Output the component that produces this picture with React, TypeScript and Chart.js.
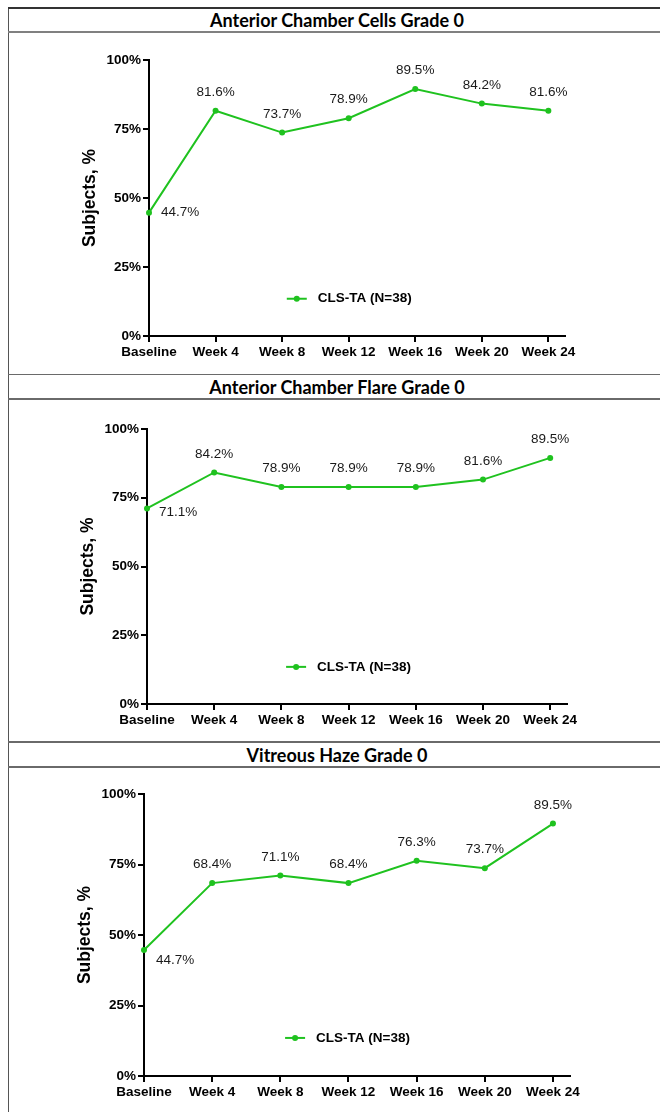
import React, { useEffect, useRef } from "react";
import { Chart, registerables } from "chart.js";

Chart.register(...registerables);

// ---------- data ----------
const categories = ["Baseline", "Week 4", "Week 8", "Week 12", "Week 16", "Week 20", "Week 24"];
const yTickValues = [0, 25, 50, 75, 100];
const seriesLabel = "CLS-TA (N=38)";
const yAxisTitle = "Subjects, %";

const cellsTitle = "Anterior Chamber Cells Grade 0";
const cellsValues = [44.7, 81.6, 73.7, 78.9, 89.5, 84.2, 81.6];

const flareTitle = "Anterior Chamber Flare Grade 0";
const flareValues = [71.1, 84.2, 78.9, 78.9, 78.9, 81.6, 89.5];

const hazeTitle = "Vitreous Haze Grade 0";
const hazeValues = [44.7, 68.4, 71.1, 68.4, 76.3, 73.7, 89.5];

// ---------- style ----------
const GREEN = "#1fc21f";
const FONT = "'Liberation Sans', Arial, sans-serif";

type PanelLayout = {
  top: number; // canvas top (page px)
  height: number;
  areaLeft: number;
  areaRight: number;
  areaTop: number;
  areaBottom: number;
  titleX: number;
  firstDy: number;
};

const CANVAS_LEFT = 9;
const CANVAS_WIDTH = 651;

function LineChart({ values, layout }: { values: number[]; layout: PanelLayout }) {
  const ref = useRef<HTMLCanvasElement | null>(null);
  useEffect(() => {
    if (!ref.current) return;
    const H = layout.height;
    const labelsPlugin = {
      id: "pointLabels",
      afterDatasetsDraw(chart: any) {
        const ctx = chart.ctx;
        const meta = chart.getDatasetMeta(0);
        ctx.save();
        ctx.font = `13.5px ${FONT}`;
        ctx.fillStyle = "#1a1a1a";
        ctx.textBaseline = "middle";
        meta.data.forEach((pt: any, i: number) => {
          const txt = values[i].toFixed(1) + "%";
          if (i === 0) {
            ctx.textAlign = "left";
            ctx.fillText(txt, pt.x + 12, pt.y + layout.firstDy);
          } else {
            ctx.textAlign = "center";
            ctx.fillText(txt, pt.x, pt.y - 18.5);
          }
        });
        // legend
        const xs = chart.scales.x.getPixelForValue(2.07);
        const ly = chart.scales.y.getPixelForValue(13.5);
        ctx.strokeStyle = GREEN;
        ctx.lineWidth = 2;
        ctx.beginPath();
        ctx.moveTo(xs, ly);
        ctx.lineTo(xs + 20, ly);
        ctx.stroke();
        ctx.fillStyle = GREEN;
        ctx.beginPath();
        ctx.arc(xs + 10, ly, 3, 0, Math.PI * 2);
        ctx.fill();
        ctx.fillStyle = "#000";
        ctx.font = `bold 13.5px ${FONT}`;
        ctx.textAlign = "left";
        ctx.fillText(seriesLabel, xs + 31, ly);
        ctx.restore();
      },
    };

    const chart = new Chart(ref.current, {
      type: "line",
      data: {
        datasets: [
          {
            label: seriesLabel,
            data: values.map((v, i) => ({ x: i, y: v })),
            borderColor: GREEN,
            backgroundColor: GREEN,
            borderWidth: 2,
            pointRadius: 3,
            pointBorderWidth: 0,
            pointHoverRadius: 3,
            tension: 0,
            clip: false as any,
          },
        ],
      },
      options: {
        responsive: false,
        animation: false,
        events: [],
        layout: {
          padding: { left: 0, top: layout.areaTop, right: CANVAS_WIDTH - layout.areaRight, bottom: 0 },
        },
        plugins: {
          legend: { display: false },
          tooltip: { enabled: false },
        },
        scales: {
          x: {
            type: "linear",
            min: 0,
            max: 6.25,
            afterBuildTicks: (s: any) => {
              s.ticks = categories.map((_, i) => ({ value: i }));
            },
            afterFit: (s: any) => {
              s.height = H - layout.areaBottom;
            },
            ticks: {
              autoSkip: false,
              maxRotation: 0,
              padding: 2,
              color: "#000",
              font: { family: FONT, size: 13.5, weight: "bold" },
              callback: (v: any) => categories[v as number] ?? "",
            },
            grid: { drawOnChartArea: false, drawTicks: true, tickLength: 6, color: "#000", lineWidth: 2 },
            border: { color: "#000", width: 2 },
          },
          y: {
            type: "linear",
            min: 0,
            max: 100,
            afterBuildTicks: (s: any) => {
              s.ticks = yTickValues.map((v) => ({ value: v }));
            },
            afterFit: (s: any) => {
              s.width = layout.areaLeft;
            },
            ticks: {
              padding: 2,
              color: "#000",
              font: { family: FONT, size: 13.5, weight: "bold" },
              callback: (v: any) => `${v}%`,
            },
            title: {
              display: true,
              text: yAxisTitle,
              color: "#000",
              font: { family: FONT, size: 17.5, weight: "bold", lineHeight: 1.2 },
              padding: { top: layout.titleX - 10.5, bottom: 0 },
            },
            grid: { drawOnChartArea: false, drawTicks: true, tickLength: 6, color: "#000", lineWidth: 2 },
            border: { color: "#000", width: 2 },
          },
        },
      } as any,
      plugins: [labelsPlugin],
    });
    return () => chart.destroy();
  }, [values, layout]);

  return (
    <canvas
      ref={ref}
      width={CANVAS_WIDTH}
      height={layout.height}
      style={{
        position: "absolute",
        left: CANVAS_LEFT,
        top: layout.top,
        width: CANVAS_WIDTH,
        height: layout.height,
      }}
    />
  );
}

const panel1: PanelLayout = { top: 34, height: 340, areaLeft: 140, areaRight: 556, areaTop: 26, areaBottom: 302, titleX: 81, firstDy: 0 };
const panel2: PanelLayout = { top: 401, height: 341, areaLeft: 138, areaRight: 558, areaTop: 28, areaBottom: 303, titleX: 79, firstDy: 4 };
const panel3: PanelLayout = { top: 769, height: 343, areaLeft: 135, areaRight: 561, areaTop: 25, areaBottom: 307, titleX: 76, firstDy: 10 };

function HLine({ y, color, thick }: { y: number; color: string; thick: number }) {
  return (
    <div
      style={{ position: "absolute", left: 8, top: y - thick / 2, width: 652, height: thick, background: color }}
    />
  );
}

function Title({ text, y0, y1 }: { text: string; y0: number; y1: number }) {
  return (
    <div
      style={{
        position: "absolute",
        left: 18,
        width: 638,
        top: y0,
        height: y1 - y0,
        display: "flex",
        alignItems: "center",
        justifyContent: "center",
        fontFamily: "Lato, 'Open Sans', sans-serif",
        fontWeight: 700,
        fontSize: 18,
        color: "#000",
        whiteSpace: "nowrap",
      }}
    >
      {text}
    </div>
  );
}

export default function App() {
  return (
    <div
      style={{
        position: "fixed",
        left: 0,
        top: 0,
        width: 660,
        height: 1112,
        overflow: "hidden",
        background: "#fff",
      }}
    >
      {/* left border */}
      <div style={{ position: "absolute", left: 7.5, top: 8, width: 1.5, height: 1104, background: "#555" }} />
      <HLine y={8} color="#333" thick={2} />
      <HLine y={32} color="#808080" thick={2} />
      <HLine y={374.5} color="#6a6a6a" thick={1.5} />
      <HLine y={399} color="#6a6a6a" thick={1.5} />
      <HLine y={742} color="#6a6a6a" thick={1.5} />
      <HLine y={767} color="#6a6a6a" thick={1.5} />

      <Title text={cellsTitle} y0={9} y1={31} />
      <Title text={flareTitle} y0={375} y1={398} />
      <Title text={hazeTitle} y0={743} y1={766} />

      <LineChart values={cellsValues} layout={panel1} />
      <LineChart values={flareValues} layout={panel2} />
      <LineChart values={hazeValues} layout={panel3} />
    </div>
  );
}
